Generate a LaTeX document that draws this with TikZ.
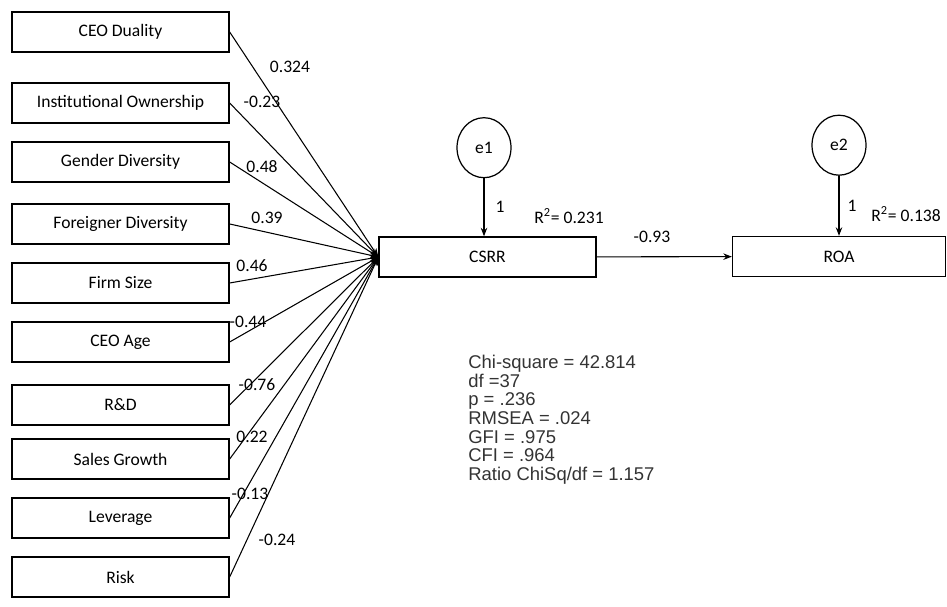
\documentclass[tikz,border=0pt]{standalone}
\usepackage{fontspec}
\setmainfont{Carlito}
\newfontfamily\statsfont{Liberation Sans}
\usetikzlibrary{positioning,arrows.meta,shapes.geometric}
\tikzset{
  sem/.style={x=0.02cm,y=-0.02cm,>={Stealth[length=1.7mm,width=1.3mm]},
    font=\fontsize{10}{12}\selectfont},
  var/.style={draw,line width=0.8pt,minimum width=4.34cm,minimum height=0.8cm,inner sep=0pt},
  err/.style={draw,ellipse,line width=0.7pt,minimum width=1.08cm,minimum height=1.2cm,inner sep=0pt},
  reg/.style={->,line width=0.6pt},
  coef/.style={inner sep=1pt},
}

\begin{document}
\begin{tikzpicture}[sem]
  \useasboundingbox (0,0) rectangle (947,607);
  % predictors
  \node[var] (dual) at (120.5,32) {CEO Duality};
  \node[var] (inst) at (120.5,103) {Institutional Ownership};
  \node[var] (gend) at (120.5,162) {Gender Diversity};
  \node[var] (forg) at (120.5,224) {Foreigner Diversity};
  \node[var] (size) at (120.5,283) {Firm Size};
  \node[var] (age)  at (120.5,342) {CEO Age};
  \node[var] (rnd)  at (120.5,405) {R\&D};
  \node[var] (sales) at (120.5,459) {Sales Growth};
  \node[var] (lev)  at (120.5,518) {Leverage};
  \node[var] (risk) at (120.5,577) {Risk};
  % outcomes and errors
  \node[var] (csrr) at (487.5,257) {CSRR};
  \node[var,minimum width=4.26cm] (roa) at (839,256.5) {ROA};
  \node[err] (e1) [above=1.16cm of csrr.north,anchor=south,xshift=-0.07cm] {e1};
  \node[err] (e2) [above=1.2cm of roa.north,anchor=south] {e2};
  % paths
  \foreach \v in {dual,inst,gend,forg,size,age,rnd,sales,lev,risk}
    \draw[reg] (\v.east) -- (csrr.west);
  \draw[reg] (csrr) -- (roa);
  \draw[reg] (e1) -- (e1 |- csrr.north);
  \draw[reg] (e2) -- (e2 |- roa.north);
  % coefficients
  \node[coef] (c1) at (290,67) {0.324};
  \node[coef] (c2) at (262,102) {-0.23};
  \node[coef] (c3) at (262,167) {0.48};
  \node[coef] (c4) at (267,218) {0.39};
  \node[coef] (c5) at (252,266) {0.46};
  \node[coef] (c6) at (248,322) {-0.44};
  \node[coef] (c7) at (257,385) {-0.76};
  \node[coef] (c8) at (252,437) {0.22};
  \node[coef] (c9) at (250,494) {-0.13};
  \node[coef] (c10) at (277,540) {-0.24};
  \node[coef] (c11) at (652,237) {-0.93};
  \node[coef] (w1) at (500,207) {1};
  \node[coef] (w2) at (852,206) {1};
  \node[coef] (r1) at (569,216) {R\textsuperscript{2}= 0.231};
  \node[coef] (r2) at (906,214) {R\textsuperscript{2}= 0.138};
  % fit indices
  \node[anchor=north west,align=left,inner sep=0pt,text=black!80,
    font=\statsfont\fontsize{10.5}{10.6}\selectfont] (fit) at (468,355)
    {Chi-square = 42.814\\df =37\\p = .236\\RMSEA = .024\\GFI = .975\\CFI = .964\\Ratio ChiSq/df = 1.157};
\end{tikzpicture}
\end{document}
